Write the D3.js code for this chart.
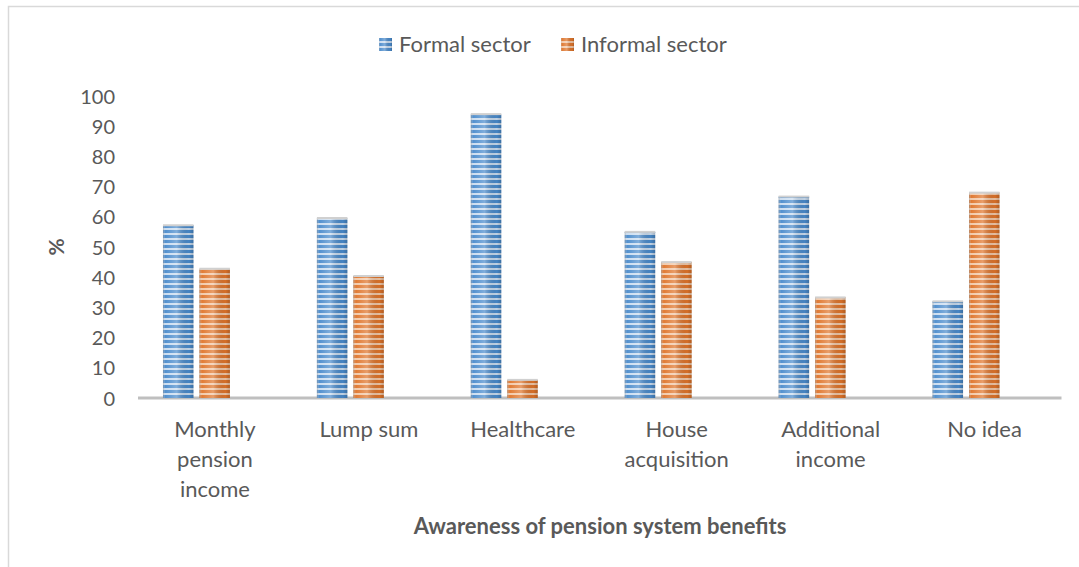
<!DOCTYPE html>
<html>
<head>
<meta charset="utf-8">
<script src="https://cdn.jsdelivr.net/npm/d3@7"></script>
<style>
  html, body { margin: 0; padding: 0; background: #fff; }
  svg { display: block; }
  text { font-family: Lato, "Open Sans", sans-serif; fill: #595959; }
</style>
</head>
<body>
<svg id="chart" width="1079" height="567"></svg>
<script>
// Awareness of pension system benefits, by sector (%)
const categories = [
  ["Monthly", "pension", "income"],
  ["Lump sum"],
  ["Healthcare"],
  ["House", "acquisition"],
  ["Additional", "income"],
  ["No idea"]
];
const seriesNames = ["Formal sector", "Informal sector"];
const formalValues   = [57.2, 59.6, 94.0, 55.0, 66.7, 32.0];
const informalValues = [42.8, 40.4, 6.0, 45.0, 33.3, 68.0];
const yTicks = [0, 10, 20, 30, 40, 50, 60, 70, 80, 90, 100];

const seriesColors = {
  "Formal sector":   { base: "#4a8bcc", light: "#c9dcf0" },
  "Informal sector": { base: "#df742a", light: "#f2c7a6" }
};

const svg = d3.select("#chart");
const W = 1079, H = 567;

// outer chart frame
svg.append("rect")
  .attr("x", 8.5).attr("y", 6.5)
  .attr("width", W + 10).attr("height", H + 10)
  .attr("fill", "none").attr("stroke", "#d9d9d9").attr("stroke-width", 1.5);

const catKeys = categories.map(c => c.join(" "));
const floorShift = 18.5; // depth offset of the 3-D floor relative to columns

const x0 = d3.scaleBand()
  .domain(catKeys)
  .range([119.5, 1043])
  .paddingInner(0.565)
  .paddingOuter(0.2825);

const x1 = d3.scaleBand()
  .domain(seriesNames)
  .range([0, x0.bandwidth()])
  .paddingInner(0.164);

const y = d3.scaleLinear().domain([0, 100]).range([398, 96]);

// patterns: horizontal stripes with cylinder-like shading
const defs = svg.append("defs");
const shade = defs.append("linearGradient")
  .attr("id", "shade").attr("x1", "0").attr("x2", "1").attr("y1", "0").attr("y2", "0");
shade.append("stop").attr("offset", "0").attr("stop-color", "#8a8a8a").attr("stop-opacity", 0.55);
shade.append("stop").attr("offset", "0.08").attr("stop-color", "#ffffff").attr("stop-opacity", 0.05);
shade.append("stop").attr("offset", "0.45").attr("stop-color", "#ffffff").attr("stop-opacity", 0.3);
shade.append("stop").attr("offset", "0.85").attr("stop-color", "#000000").attr("stop-opacity", 0.05);
shade.append("stop").attr("offset", "1").attr("stop-color", "#000000").attr("stop-opacity", 0.2);

seriesNames.forEach((name, i) => {
  const c = seriesColors[name];
  const p = defs.append("pattern")
    .attr("id", "stripe" + i)
    .attr("patternUnits", "userSpaceOnUse")
    .attr("width", 8).attr("height", 5);
  p.append("rect").attr("width", 8).attr("height", 5).attr("fill", c.base);
  p.append("rect").attr("y", 3).attr("width", 8).attr("height", 2).attr("fill", c.light);
});

const rows = catKeys.map((k, i) => ({
  key: k,
  values: [
    { name: seriesNames[0], v: formalValues[i], idx: 0 },
    { name: seriesNames[1], v: informalValues[i], idx: 1 }
  ]
}));

// floor / category axis line
svg.append("line")
  .attr("x1", x0.range()[0] + floorShift).attr("x2", x0.range()[1] + floorShift)
  .attr("y1", y(0)).attr("y2", y(0))
  .attr("stroke", "#bfbfbf").attr("stroke-width", 3);

const groups = svg.append("g").selectAll("g")
  .data(rows).join("g")
  .attr("transform", d => `translate(${x0(d.key)},0)`);

const bars = groups.selectAll("g.bar")
  .data(d => d.values).join("g").attr("class", "bar");

bars.append("rect")
  .attr("x", d => x1(d.name))
  .attr("y", d => y(d.v))
  .attr("width", x1.bandwidth())
  .attr("height", d => y(0) - y(d.v))
  .attr("fill", d => `url(#stripe${d.idx})`);

bars.append("rect")
  .attr("x", d => x1(d.name))
  .attr("y", d => y(d.v))
  .attr("width", x1.bandwidth())
  .attr("height", d => y(0) - y(d.v))
  .attr("fill", "url(#shade)");

// lighter top face of each column
bars.append("rect")
  .attr("x", d => x1(d.name))
  .attr("y", d => y(d.v) - 1)
  .attr("width", x1.bandwidth())
  .attr("height", 2)
  .attr("fill", "#d0d0d0");

// y axis tick labels
const yAxis = d3.axisLeft(y).tickValues(yTicks).tickSize(0).tickPadding(0);
const ya = svg.append("g").attr("transform", "translate(115,0)").call(yAxis);
ya.select(".domain").remove();
ya.selectAll("text")
  .style("font-size", "20px")
  .attr("fill", "#595959")
  .attr("dy", "0.35em");

// category labels (multi-line)
const labelG = svg.append("g");
rows.forEach((r, i) => {
  const cx = x0(r.key) + x0.bandwidth() / 2 + floorShift;
  const t = labelG.append("text")
    .attr("text-anchor", "middle")
    .style("font-size", "22px");
  categories[i].forEach((line, j) => {
    t.append("tspan").attr("x", cx).attr("y", 437 + j * 30).text(line);
  });
});

// axis titles
svg.append("text")
  .attr("x", 600).attr("y", 534)
  .attr("text-anchor", "middle")
  .style("font-size", "22px").style("font-weight", "bold")
  .text("Awareness of pension system benefits");

svg.append("text")
  .attr("transform", "translate(64,247) rotate(-90)")
  .attr("text-anchor", "middle")
  .style("font-size", "21px").style("font-weight", "bold")
  .text("%");

// legend
const legend = svg.append("g");
const legendPos = [379, 561];
seriesNames.forEach((name, i) => {
  const lg = legend.append("g").attr("transform", `translate(${legendPos[i]},38)`);
  lg.append("rect").attr("width", 13).attr("height", 13).attr("fill", `url(#stripe${i})`);
  lg.append("rect").attr("width", 13).attr("height", 13).attr("fill", "url(#shade)");
  lg.append("text").attr("x", 20).attr("y", 14)
    .style("font-size", "22px").text(name);
});
</script>
</body>
</html>
